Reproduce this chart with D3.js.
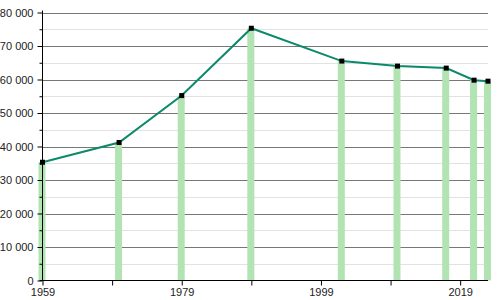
<!DOCTYPE html>
<html>
<head>
<meta charset="utf-8">
<style>
  body { margin: 0; background: #fff; }
  svg { display: block; font-family: "Liberation Sans", Arial, sans-serif; }
</style>
</head>
<body>
<script src="https://d3js.org/d3.v7.min.js"></script>
<script>
// population by census / estimate year
const years = [1959, 1970, 1979, 1989, 2002, 2010, 2017, 2021, 2023];
const population = [35300, 41200, 55200, 75300, 65500, 64000, 63400, 59800, 59500];
const yearTicks = [1959, 1969, 1979, 1989, 1999, 2009, 2019];
const yearLabels = ["1959", "", "1979", "", "1999", "", "2019"];

const w = 500, h = 300;
const mLeft = 42.5, mRight = 488, mTop = 12.5, mBottom = 280.5;

const svg = d3.select("body").append("svg").attr("width", w).attr("height", h);

const x = d3.scaleLinear().domain([1959, 2023]).range([mLeft, mRight]);
const y = d3.scaleLinear().domain([0, 80000]).range([mBottom, mTop]);

// minor grid
svg.append("g").selectAll("line")
  .data(d3.range(5000, 80000, 10000))
  .join("line")
  .attr("x1", mLeft).attr("x2", mRight)
  .attr("y1", d => Math.round(y(d)) + 0.5).attr("y2", d => Math.round(y(d)) + 0.5)
  .attr("stroke", "#e2e2e2");

// major grid
svg.append("g").selectAll("line")
  .data(d3.range(10000, 80001, 10000))
  .join("line")
  .attr("x1", mLeft).attr("x2", mRight)
  .attr("y1", d => Math.round(y(d)) + 0.5).attr("y2", d => Math.round(y(d)) + 0.5)
  .attr("stroke", "#777");

// bars
svg.append("g").selectAll("rect")
  .data(years)
  .join("rect")
  .attr("x", (d) => x(d) - 4)
  .attr("width", 7)
  .attr("y", (d, i) => y(population[i]))
  .attr("height", (d, i) => mBottom - y(population[i]))
  .attr("fill", "#b2e3b2");

// y axis
const yAxis = svg.append("g")
  .attr("transform", `translate(${mLeft},0)`)
  .call(d3.axisLeft(y).tickValues(d3.range(0, 80001, 10000)).tickSize(5)
    .tickFormat(d => d3.format(",")(d).replace(/,/g, " ")));
yAxis.selectAll("text").attr("font-size", 11).attr("fill", "#222").attr("x", -9);
yAxis.select(".domain").remove();
yAxis.selectAll("line").attr("stroke", "#000");

const yMinor = svg.append("g")
  .attr("transform", `translate(${mLeft},0)`)
  .call(d3.axisLeft(y).tickValues(d3.range(5000, 80000, 10000)).tickSize(3).tickFormat(""));
yMinor.select(".domain").remove();

svg.append("line")
  .attr("x1", mLeft).attr("x2", mLeft).attr("y1", mTop - 2).attr("y2", mBottom)
  .attr("stroke", "#000");

// x axis
const xAxis = svg.append("g")
  .attr("transform", `translate(0,${mBottom})`)
  .call(d3.axisBottom(x).tickValues(yearTicks).tickSize(5)
    .tickFormat((d, i) => yearLabels[i]));
xAxis.select(".domain").remove();
xAxis.selectAll("text").attr("font-size", 11).attr("fill", "#222").attr("y", 8);
svg.append("line")
  .attr("x1", mLeft - 3).attr("x2", mRight).attr("y1", mBottom).attr("y2", mBottom)
  .attr("stroke", "#000");

// line
const line = d3.line().x((d, i) => x(d)).y((d, i) => y(population[i]));
svg.append("path")
  .datum(years)
  .attr("d", line)
  .attr("fill", "none")
  .attr("stroke", "#0a8a6a")
  .attr("stroke-width", 2);

// markers
svg.append("g").selectAll("rect")
  .data(years)
  .join("rect")
  .attr("x", d => x(d) - 2.5)
  .attr("y", (d, i) => y(population[i]) - 2.5)
  .attr("width", 5).attr("height", 5)
  .attr("fill", "#000");
</script>
</body>
</html>
